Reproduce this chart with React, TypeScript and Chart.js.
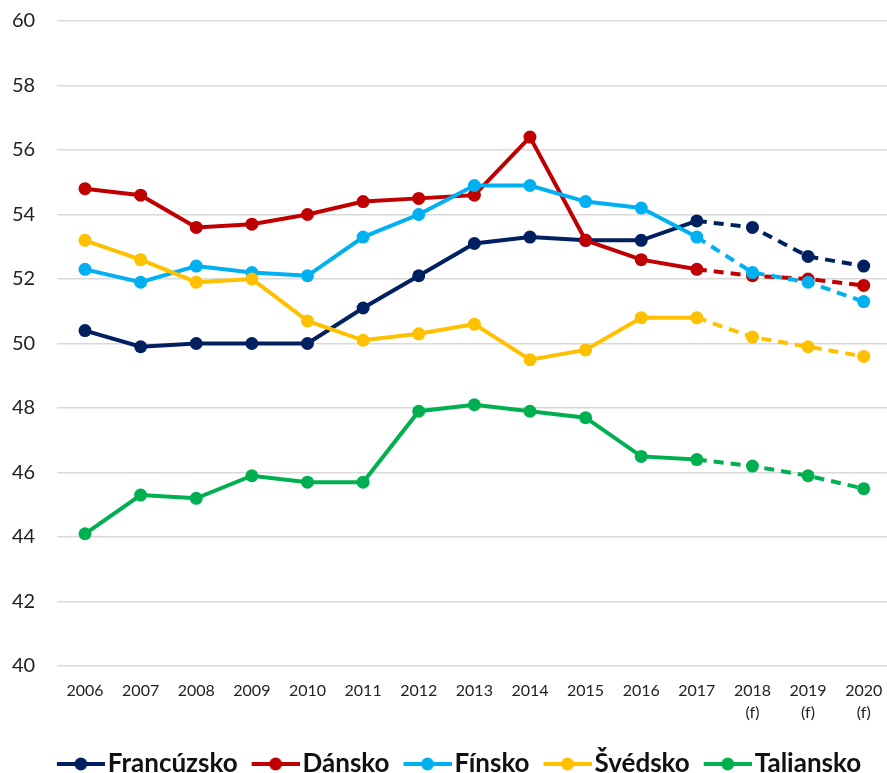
import React, { useEffect, useRef } from "react";
import { Chart, registerables } from "chart.js";

Chart.register(...registerables);

const categories: (string | string[])[] = [
  "2006", "2007", "2008", "2009", "2010", "2011", "2012", "2013", "2014",
  "2015", "2016", "2017", ["2018", "(f)"], ["2019", "(f)"], ["2020", "(f)"],
];

const francuzsko = [50.4, 49.9, 50.0, 50.0, 50.0, 51.1, 52.1, 53.1, 53.3, 53.2, 53.2, 53.8, 53.6, 52.7, 52.4];
const dansko = [54.8, 54.6, 53.6, 53.7, 54.0, 54.4, 54.5, 54.6, 56.4, 53.2, 52.6, 52.3, 52.1, 52.0, 51.8];
const finsko = [52.3, 51.9, 52.4, 52.2, 52.1, 53.3, 54.0, 54.9, 54.9, 54.4, 54.2, 53.3, 52.2, 51.9, 51.3];
const svedsko = [53.2, 52.6, 51.9, 52.0, 50.7, 50.1, 50.3, 50.6, 49.5, 49.8, 50.8, 50.8, 50.2, 49.9, 49.6];
const taliansko = [44.1, 45.3, 45.2, 45.9, 45.7, 45.7, 47.9, 48.1, 47.9, 47.7, 46.5, 46.4, 46.2, 45.9, 45.5];

const seriesNames = ["Francúzsko", "Dánsko", "Fínsko", "Švédsko", "Taliansko"];
const seriesValues = [francuzsko, dansko, finsko, svedsko, taliansko];
const seriesColors = ["#002060", "#C00000", "#00B0F0", "#FFC000", "#00B050"];
const forecastStart = 11;

function makeMarker(color: string): HTMLCanvasElement {
  const c = document.createElement("canvas");
  c.width = 56;
  c.height = 14;
  const g = c.getContext("2d")!;
  g.strokeStyle = color;
  g.lineWidth = 4;
  g.beginPath();
  g.moveTo(8, 7);
  g.lineTo(56, 7);
  g.stroke();
  g.fillStyle = color;
  g.beginPath();
  g.arc(32, 7, 6.5, 0, Math.PI * 2);
  g.fill();
  return c;
}

const legendShift = {
  id: "legendShift",
  afterLayout(chart: any) {
    const l = chart.legend;
    if (l) {
      l.left += 5;
      l.right += 5;
    }
  },
};

export default function App() {
  const ref = useRef<HTMLCanvasElement>(null);
  useEffect(() => {
    if (!ref.current) return;
    const markers = seriesColors.map(makeMarker);
    const chart = new Chart(ref.current, {
      type: "line",
      data: {
        labels: categories,
        datasets: seriesNames.map((name, i) => ({
          label: name,
          data: seriesValues[i],
          borderColor: seriesColors[i],
          backgroundColor: seriesColors[i],
          borderWidth: 4,
          pointStyle: "circle",
          pointRadius: 6.5,
          pointHoverRadius: 6.5,
          pointBorderWidth: 0,
          tension: 0,
          order: 10 - i,
          segment: {
            borderDash: (ctx: any) => (ctx.p0DataIndex >= forecastStart ? [10, 7] : undefined),
          },
        })),
      },
      plugins: [legendShift],
      options: {
        animation: false,
        responsive: false,
        layout: { padding: { left: 12, top: 21, right: 0, bottom: -14 } },
        scales: {
          x: {
            offset: true,
            grid: { display: false },
            border: { display: false },
            afterFit: (s: any) => { s.height += 5; },
            ticks: {
              color: "#222",
              font: { family: "Lato", size: 16, lineHeight: 1.375 },
              padding: 6,
              maxRotation: 0,
              autoSkip: false,
            },
          },
          y: {
            min: 40,
            max: 60,
            afterFit: (s: any) => { s.width += 22; },
            ticks: {
              stepSize: 2,
              color: "#222",
              font: { family: "Lato", size: 20 },
              padding: 0,
              crossAlign: "far",
            },
            grid: { color: "#d9d9d9", lineWidth: 1.5, drawTicks: false },
            border: { display: false },
          },
        },
        plugins: {
          tooltip: { enabled: false },
          legend: {
            position: "bottom",
            labels: {
              usePointStyle: true,
              pointStyleWidth: 36,
              padding: 16,
              color: "#111",
              font: { family: "Lato", size: 26, weight: "bold" },
              generateLabels: () =>
                seriesNames.map((n, i) => ({
                  text: n,
                  datasetIndex: i,
                  fillStyle: seriesColors[i],
                  strokeStyle: seriesColors[i],
                  fontColor: "#111",
                  lineWidth: 0,
                  hidden: false,
                  pointStyle: markers[i],
                })),
            },
          },
        },
      },
    });
    return () => chart.destroy();
  }, []);
  return (
    <div style={{ position: "fixed", left: 0, top: 0, width: 887, height: 773, overflow: "hidden", background: "#fff" }}>
      <canvas ref={ref} width={898} height={773} style={{ display: "block" }} />
    </div>
  );
}
